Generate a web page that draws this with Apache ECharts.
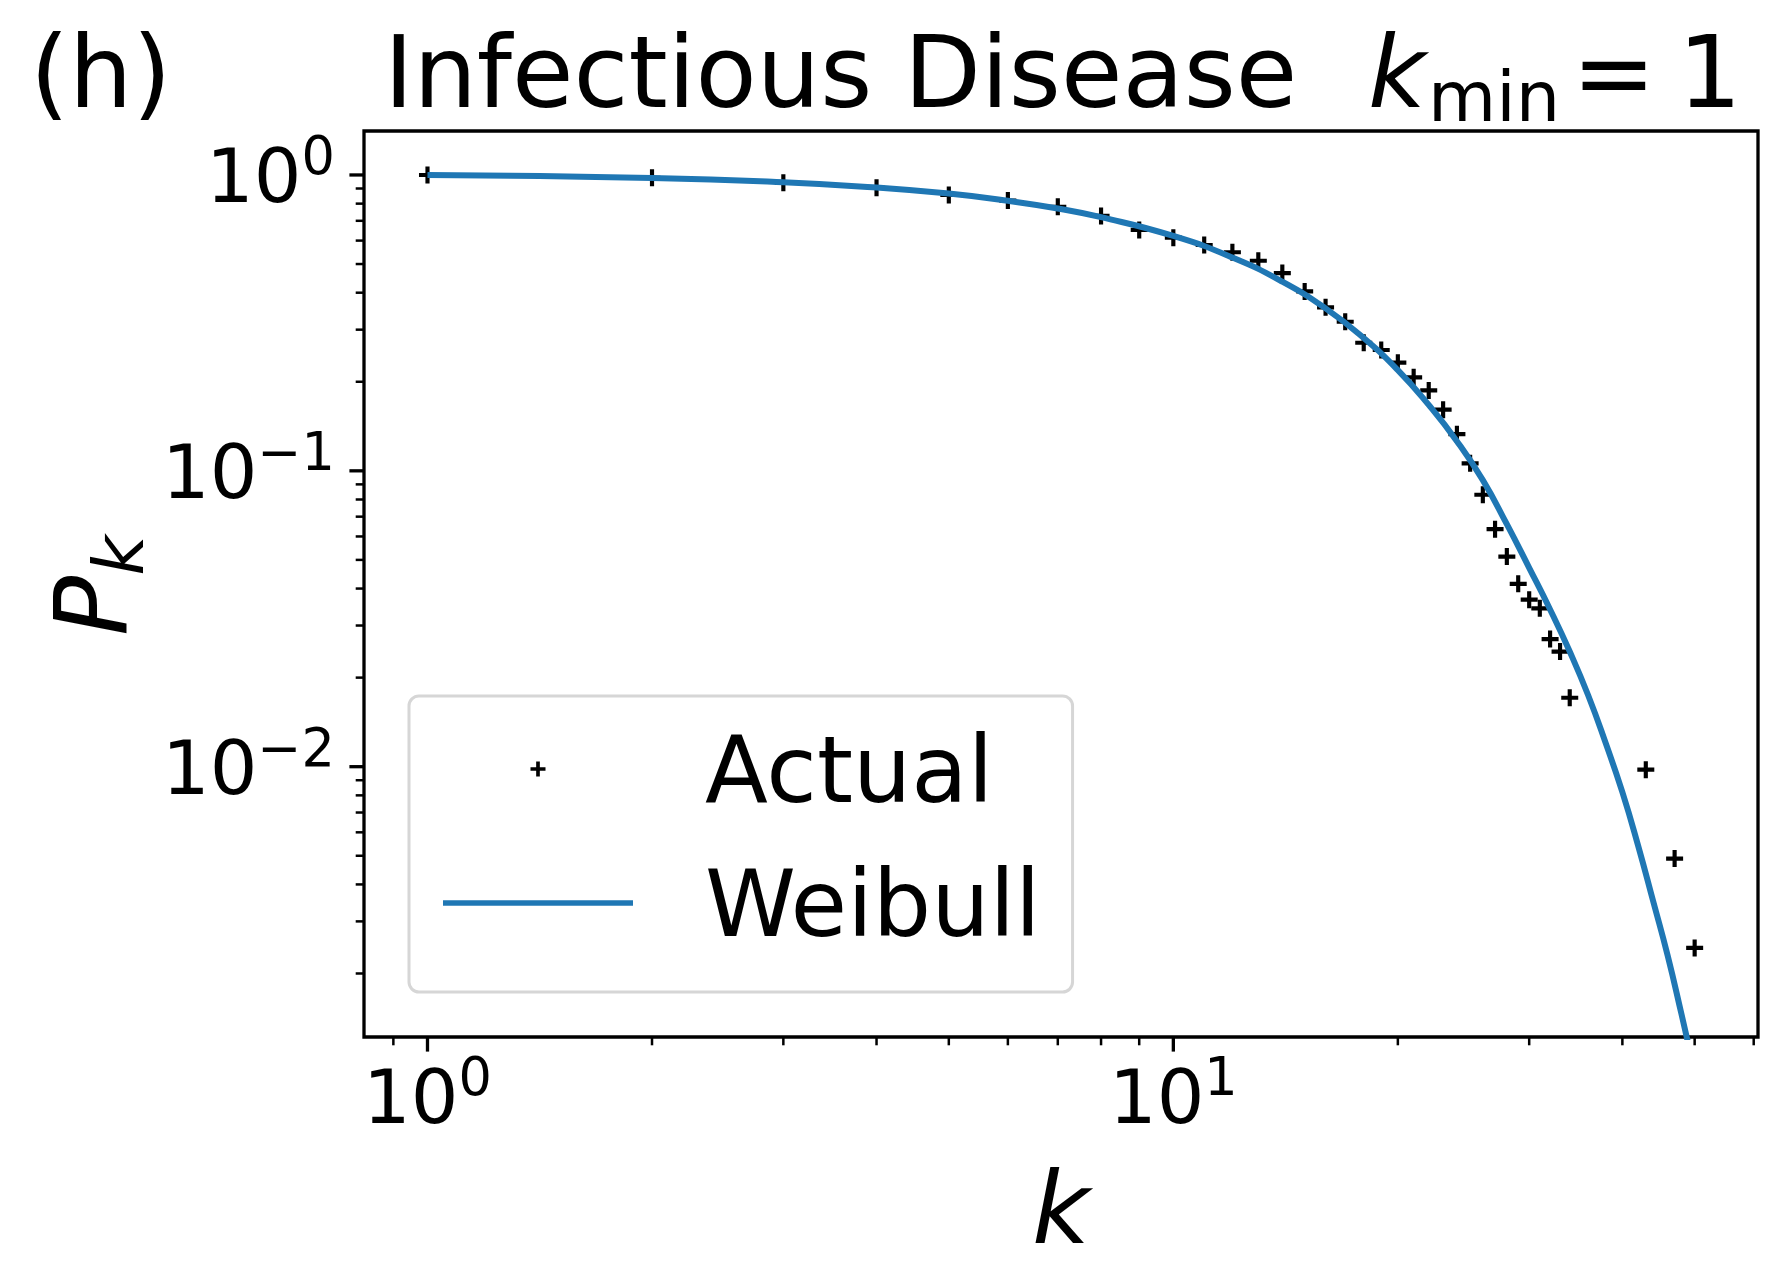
<!DOCTYPE html>
<html>
<head>
<meta charset="utf-8">
<script src="https://cdn.jsdelivr.net/npm/echarts@6/dist/echarts.min.js"></script>
<style>
  html, body { margin: 0; padding: 0; background: #fff; }
  #chart { width: 1788px; height: 1283px; }
</style>
</head>
<body>
<div id="chart"></div>
<script>
// --- data ---
var kActual = [1, 2, 3, 4, 5, 6, 7, 8, 9, 10, 11, 12, 13, 14, 15, 16, 17, 18, 19, 20,
               21, 22, 23, 24, 25, 26, 27, 28, 29, 30, 31, 32, 33, 34, 43, 47, 50];
var pActual = [1.0, 0.978, 0.942, 0.905, 0.856, 0.819, 0.781, 0.727, 0.652, 0.614,
               0.580, 0.548, 0.513, 0.466, 0.404, 0.357, 0.319, 0.271, 0.256, 0.232,
               0.207, 0.187, 0.161, 0.133, 0.106, 0.083, 0.0635, 0.0513, 0.0415, 0.0367,
               0.0343, 0.0270, 0.0245, 0.0171, 0.00977, 0.00489, 0.00244];

var kWeibull = [1, 2, 3, 4, 5, 6, 7, 8, 10, 12, 14, 16, 18, 20, 22, 24, 26, 28, 30,
                32, 34, 36, 38, 40, 42, 44, 46, 48, 50];
var pWeibull = [1.0, 0.977, 0.945, 0.907, 0.865, 0.818, 0.770, 0.720, 0.622, 0.526,
                0.436, 0.354, 0.281, 0.219, 0.167, 0.126, 0.093, 0.066, 0.047,
                0.034, 0.0245, 0.0174, 0.0120, 0.0082, 0.0054, 0.0035, 0.0023, 0.00146, 0.00093];

// axis ranges and ticks
var xRange = [0.822, 60.8];
var yRange = [0.00122, 1.408];
var xMajorTicks = [1, 10];
var xMajorExp = ['0', '1'];
var xMinorTicks = [0.9, 2, 3, 4, 5, 6, 7, 8, 9, 20, 30, 40, 50, 60];
var yMajorTicks = [1, 0.1, 0.01];
var yMajorExp = ['0', '\u22121', '\u22122'];
var yMinorTicks = [0.002, 0.003, 0.004, 0.005, 0.006, 0.007, 0.008, 0.009,
                   0.02, 0.03, 0.04, 0.05, 0.06, 0.07, 0.08, 0.09,
                   0.2, 0.3, 0.4, 0.5, 0.6, 0.7, 0.8, 0.9];

var FONT = 'DejaVu Sans';
var BLUE = '#1f77b4';
var PLUS = 'path://M-2.2,-9H2.2V-2.2H9V2.2H2.2V9H-2.2V2.2H-9V-2.2H-2.2Z';

var chart = echarts.init(document.getElementById('chart'));

chart.setOption({
    animation: false,
    backgroundColor: '#fff',
    grid: {
        show: true, left: 364, top: 131, right: 30, bottom: 246,
        borderColor: '#000', borderWidth: 3.3, backgroundColor: 'transparent'
    },
    xAxis: {
        type: 'log', logBase: 10, min: xRange[0], max: xRange[1],
        axisLine: { show: false }, axisTick: { show: false },
        axisLabel: { show: false }, splitLine: { show: false }
    },
    yAxis: {
        type: 'log', logBase: 10, min: yRange[0], max: yRange[1],
        axisLine: { show: false }, axisTick: { show: false },
        axisLabel: { show: false }, splitLine: { show: false }
    },
    legend: {
        orient: 'vertical', left: 409, top: 696,
        padding: [18, 32, 34, 34],
        itemWidth: 190, itemHeight: 15, itemGap: 24,
        backgroundColor: 'rgba(255,255,255,0.8)',
        borderColor: '#d6d6d6', borderWidth: 3, borderRadius: 10,
        selectedMode: false,
        formatter: '{t|{name}}',
        textStyle: {
            fontFamily: FONT, fontSize: 92, color: '#000', padding: [0, 0, 0, 67],
            rich: { t: { fontFamily: FONT, fontSize: 92, color: '#000', lineHeight: 92, padding: [18, 0, 0, 0] } }
        },
        data: [
            { name: 'Actual', icon: PLUS, itemStyle: { color: '#000', opacity: 1 } },
            { name: 'Weibull', icon: 'path://M0,0H190V5.5H0Z' }
        ]
    },
    series: [{
        name: 'Actual',
        type: 'scatter',
        symbol: PLUS,
        symbolSize: 17,
        itemStyle: { color: '#000', opacity: 1 },
        z: 2,
        data: kActual.map(function (k, i) { return [k, pActual[i]]; })
    }, {
        name: 'Weibull',
        type: 'line',
        color: BLUE,
        symbol: 'none',
        smooth: true,
        clip: true,
        lineStyle: { color: BLUE, width: 6 },
        itemStyle: { color: BLUE },
        z: 3,
        data: kWeibull.map(function (k, i) { return [k, pWeibull[i]]; })
    }]
});

// --- ticks, tick labels, titles drawn as graphics positioned by the axes ---
var ctx = document.createElement('canvas').getContext('2d');
function fontStr(size, italic) { return (italic ? 'italic ' : '') + size + 'px "' + FONT + '"'; }
function textWidth(str, size, italic) { ctx.font = fontStr(size, italic); return ctx.measureText(str).width; }
function midOffset(size, italic) {
    ctx.font = fontStr(size, italic);
    ctx.textBaseline = 'alphabetic';
    var a = ctx.measureText('H').actualBoundingBoxAscent;
    ctx.textBaseline = 'middle';
    var b = ctx.measureText('H').actualBoundingBoxAscent;
    ctx.textBaseline = 'alphabetic';
    return a - b;
}
// text placed by its alphabetic baseline
function textEl(str, x, baseline, size, italic, align) {
    return {
        type: 'text', x: x, y: baseline - midOffset(size, italic), silent: true,
        style: {
            text: str, fill: '#000', fontFamily: FONT, fontSize: size,
            fontStyle: italic ? 'italic' : 'normal',
            align: align || 'left', verticalAlign: 'middle'
        }
    };
}
function tickEl(x1, y1, x2, y2, w) {
    return { type: 'line', silent: true, shape: { x1: x1, y1: y1, x2: x2, y2: y2 },
             style: { stroke: '#000', lineWidth: w } };
}
function px(v) { return chart.convertToPixel({ xAxisIndex: 0 }, v); }
function py(v) { return chart.convertToPixel({ yAxisIndex: 0 }, v); }

var gLeft = px(xRange[0]), gBottom = py(yRange[0]);
var els = [];
var MAJ = 14.6, MIN = 8.3;

xMajorTicks.forEach(function (v, i) {
    var x = px(v);
    els.push(tickEl(x, gBottom, x, gBottom + MAJ, 3.3));
    var w1 = textWidth('10', 75), w2 = textWidth(xMajorExp[i], 52.5);
    var x0 = x - (w1 + w2) / 2;
    els.push(textEl('10', x0, gBottom + 86, 75));
    els.push(textEl(xMajorExp[i], x0 + w1, gBottom + 58, 52.5));
});
xMinorTicks.forEach(function (v) {
    var x = px(v);
    els.push(tickEl(x, gBottom, x, gBottom + MIN, 2.5));
});
yMajorTicks.forEach(function (v, i) {
    var y = py(v);
    els.push(tickEl(gLeft - MAJ, y, gLeft, y, 3.3));
    var w1 = textWidth('10', 75), w2 = textWidth(yMajorExp[i], 52.5);
    var x0 = gLeft - MAJ - 14.6 - w1 - w2;
    els.push(textEl('10', x0, y + 27.5, 75));
    els.push(textEl(yMajorExp[i], x0 + w1, y - 0.5, 52.5));
});
yMinorTicks.forEach(function (v) {
    var y = py(v);
    els.push(tickEl(gLeft - MIN, y, gLeft, y, 2.5));
});

// title
els.push(textEl('(h)', 30, 107, 100));
els.push(textEl('Infectious Disease', 384, 107, 100));
els.push(textEl('k', 1368, 107, 100, true));
els.push(textEl('min', 1428, 121, 70));
els.push(textEl('=', 1572, 107, 100));
els.push(textEl('1', 1678, 107, 100));

// axis labels
els.push(textEl('k', 1061, 1243, 100, true, 'center'));
var wP = textWidth('P', 100, true);
els.push({
    type: 'group', x: 126, y: 636, rotation: Math.PI / 2,
    children: [
        textEl('P', 0, 0, 100, true),
        textEl('k', wP, 17, 70, true)
    ]
});

chart.setOption({ graphic: els });
</script>
</body>
</html>
